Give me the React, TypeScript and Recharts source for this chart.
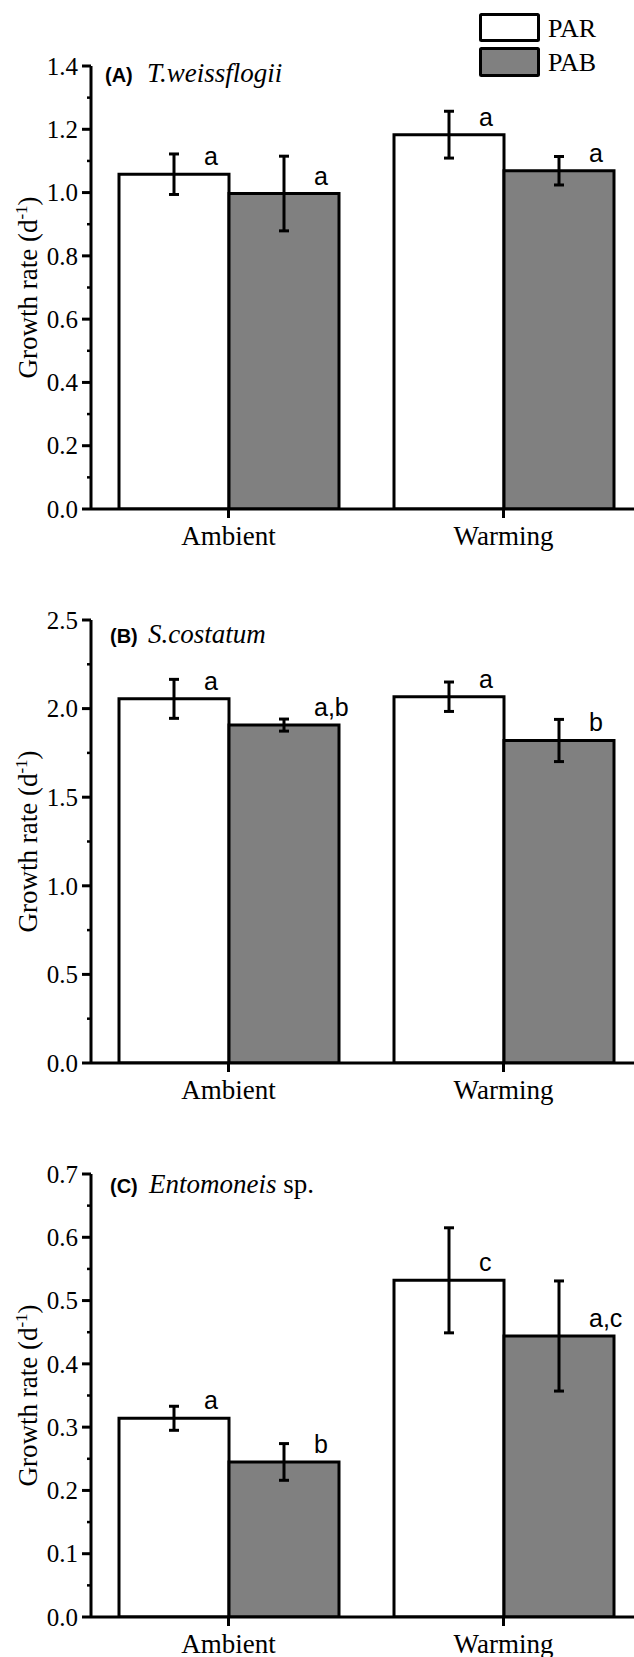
import React from "react";
import { BarChart, Bar, XAxis, YAxis, ErrorBar, LabelList } from "recharts";

const categories = ["Ambient", "Warming"];

// (A) T.weissflogii
const parA = [1.058, 1.183];
const parErrA = [0.064, 0.074];
const pabA = [0.997, 1.069];
const pabErrA = [0.118, 0.045];
const parLettersA = ["a", "a"];
const pabLettersA = ["a", "a"];
const majorTicksA = [0, 0.2, 0.4, 0.6, 0.8, 1.0, 1.2, 1.4];
const minorTicksA = [0.1, 0.3, 0.5, 0.7, 0.9, 1.1, 1.3];

// (B) S.costatum
const parB = [2.055, 2.067];
const parErrB = [0.11, 0.083];
const pabB = [1.907, 1.82];
const pabErrB = [0.034, 0.119];
const parLettersB = ["a", "a"];
const pabLettersB = ["a,b", "b"];
const majorTicksB = [0, 0.5, 1.0, 1.5, 2.0, 2.5];
const minorTicksB = [0.25, 0.75, 1.25, 1.75, 2.25];

// (C) Entomoneis sp.
const parC = [0.314, 0.532];
const parErrC = [0.019, 0.083];
const pabC = [0.245, 0.444];
const pabErrC = [0.029, 0.087];
const parLettersC = ["a", "c"];
const pabLettersC = ["b", "a,c"];
const majorTicksC = [0, 0.1, 0.2, 0.3, 0.4, 0.5, 0.6, 0.7];
const minorTicksC = [0.05, 0.15, 0.25, 0.35, 0.45, 0.55, 0.65];

const SERIF = "'Liberation Serif', 'Times New Roman', serif";
const SANS = "'Liberation Sans', Arial, sans-serif";

const AXIS_X = 91;
const MARGIN_TOP = 24;
const PLOT_H = 443;
const XAXIS_H = 50;
const CHART_W = 641;

function buildRows(
  par: number[],
  parErr: number[],
  pab: number[],
  pabErr: number[],
  parLetters: string[],
  pabLetters: string[]
) {
  return categories.map((name, i) => ({
    name,
    par: par[i],
    parErr: parErr[i],
    pab: pab[i],
    pabErr: pabErr[i],
    parLetter: parLetters[i],
    pabLetter: pabLetters[i]
  }));
}

function makeYTick(majors: number[]) {
  return function YTick(props: any) {
    const { payload } = props;
    const y = payload.coordinate ?? props.y;
    const isMajor = majors.some((m) => Math.abs(m - payload.value) < 1e-9);
    return (
      <g>
        <line
          x1={AXIS_X - (isMajor ? 9 : 4)}
          x2={AXIS_X}
          y1={y}
          y2={y}
          stroke="#000"
          strokeWidth={isMajor ? 3 : 2.5}
        />
        {isMajor && (
          <text
            x={78}
            y={y}
            dy="0.35em"
            textAnchor="end"
            fontFamily={SERIF}
            fontSize={25}
            fill="#000"
          >
            {Number(payload.value).toFixed(1)}
          </text>
        )}
      </g>
    );
  };
}

function XTick(props: any) {
  const { x, y, payload } = props;
  return (
    <text
      x={x}
      y={y}
      dy={25}
      textAnchor="middle"
      fontFamily={SERIF}
      fontSize={27}
      fill="#000"
    >
      {payload.value}
    </text>
  );
}

function LetterLabel(props: any) {
  const { x, y, width, value } = props;
  return (
    <text
      x={Number(x) + Number(width) / 2 + 30}
      y={Number(y) - 9}
      fontFamily={SANS}
      fontSize={25}
      fill="#000"
    >
      {value}
    </text>
  );
}

interface PanelProps {
  rows: ReturnType<typeof buildRows>;
  majors: number[];
  minors: number[];
  plotTop: number;
}

function Panel({ rows, majors, minors, plotTop }: PanelProps) {
  const ticks = [...majors, ...minors].sort((a, b) => a - b);
  const max = majors[majors.length - 1];
  return (
    <div style={{ position: "absolute", left: 0, top: plotTop - MARGIN_TOP }}>
      <BarChart
        width={CHART_W}
        height={MARGIN_TOP + PLOT_H + XAXIS_H}
        data={rows}
        margin={{ top: MARGIN_TOP, right: 0, bottom: 0, left: 0 }}
        barGap={0}
      >
        <XAxis
          dataKey="name"
          axisLine={{ stroke: "#000", strokeWidth: 3 }}
          tickLine={{ stroke: "#000", strokeWidth: 3 }}
          tickSize={9}
          height={XAXIS_H}
          interval={0}
          tick={XTick}
        />
        <YAxis
          width={AXIS_X}
          domain={[0, max]}
          ticks={ticks}
          interval={0}
          allowDataOverflow
          axisLine={{ stroke: "#000", strokeWidth: 3 }}
          tickLine={false}
          tick={makeYTick(majors)}
        />
        <Bar
          dataKey="par"
          fill="#ffffff"
          stroke="#000"
          strokeWidth={3}
          barSize={110}
          isAnimationActive={false}
        >
          <ErrorBar dataKey="parErr" width={5} strokeWidth={3} stroke="#000" direction="y" />
          <LabelList dataKey="parLetter" content={LetterLabel} />
        </Bar>
        <Bar
          dataKey="pab"
          fill="#808080"
          stroke="#000"
          strokeWidth={3}
          barSize={110}
          isAnimationActive={false}
        >
          <ErrorBar dataKey="pabErr" width={5} strokeWidth={3} stroke="#000" direction="y" />
          <LabelList dataKey="pabLetter" content={LetterLabel} />
        </Bar>
      </BarChart>
    </div>
  );
}

const PLOT_TOPS = [66, 620, 1174];

function YLabel({ plotTop }: { plotTop: number }) {
  const cy = plotTop + PLOT_H / 2;
  return (
    <text
      x={37}
      y={cy}
      transform={`rotate(-90, 37, ${cy})`}
      textAnchor="middle"
      fontFamily={SERIF}
      fontSize={27}
      fill="#000"
    >
      Growth rate (d
      <tspan dy={-10} fontSize={17}>-1</tspan>
      <tspan dy={10}>)</tspan>
    </text>
  );
}

export default function App() {
  const rowsA = buildRows(parA, parErrA, pabA, pabErrA, parLettersA, pabLettersA);
  const rowsB = buildRows(parB, parErrB, pabB, pabErrB, parLettersB, pabLettersB);
  const rowsC = buildRows(parC, parErrC, pabC, pabErrC, parLettersC, pabLettersC);

  return (
    <div
      style={{
        position: "absolute",
        left: 0,
        top: 0,
        width: 634,
        height: 1657,
        overflow: "hidden",
        background: "#fff"
      }}
    >
      <Panel rows={rowsA} majors={majorTicksA} minors={minorTicksA} plotTop={PLOT_TOPS[0]} />
      <Panel rows={rowsB} majors={majorTicksB} minors={minorTicksB} plotTop={PLOT_TOPS[1]} />
      <Panel rows={rowsC} majors={majorTicksC} minors={minorTicksC} plotTop={PLOT_TOPS[2]} />

      <svg
        width={634}
        height={1657}
        style={{ position: "absolute", left: 0, top: 0, pointerEvents: "none" }}
      >
        {/* legend */}
        <rect x={480.5} y={14.5} width={58} height={26} fill="#fff" stroke="#000" strokeWidth={3} rx={1} />
        <rect x={480.5} y={48.5} width={58} height={27} fill="#808080" stroke="#000" strokeWidth={3} rx={1} />
        <text x={548} y={37} fontFamily={SERIF} fontSize={26} fill="#000">PAR</text>
        <text x={548} y={71} fontFamily={SERIF} fontSize={26} fill="#000">PAB</text>

        {/* panel titles */}
        <text x={105} y={82} fontFamily={SANS} fontSize={20} fontWeight="bold" fill="#000">(A)</text>
        <text x={147} y={82} fontFamily={SERIF} fontSize={27} fontStyle="italic" fill="#000">T.weissflogii</text>

        <text x={110} y={643} fontFamily={SANS} fontSize={20} fontWeight="bold" fill="#000">(B)</text>
        <text x={148} y={643} fontFamily={SERIF} fontSize={27} fontStyle="italic" fill="#000">S.costatum</text>

        <text x={110} y={1193} fontFamily={SANS} fontSize={20} fontWeight="bold" fill="#000">(C)</text>
        <text x={149} y={1193} fontFamily={SERIF} fontSize={27} fill="#000">
          <tspan fontStyle="italic">Entomoneis</tspan> sp.
        </text>

        {PLOT_TOPS.map((t) => (
          <YLabel key={t} plotTop={t} />
        ))}
      </svg>
    </div>
  );
}
